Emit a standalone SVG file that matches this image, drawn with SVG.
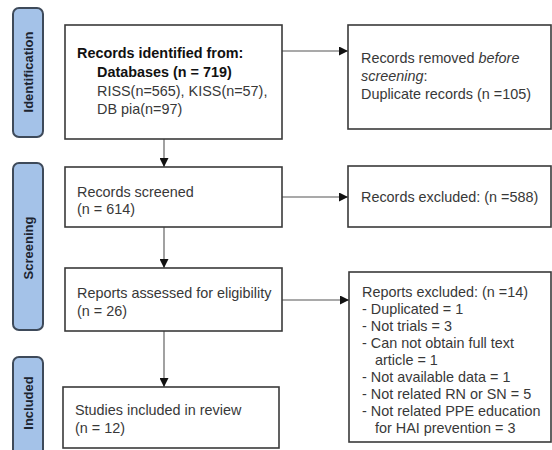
<svg xmlns="http://www.w3.org/2000/svg" width="552" height="450" viewBox="0 0 552 450">
<style>
.side{fill:#a4c2e8;stroke:#3e4a5a;stroke-width:2}
.sidet{font-family:"Liberation Sans",Arial,sans-serif;font-size:13px;font-weight:bold;fill:#1c2430;text-anchor:middle}
.box{fill:#fff;stroke:#3a3a3a;stroke-width:1.6}
.t{font-family:"Liberation Sans",Arial,sans-serif;font-size:14.4px;fill:#383838}
.b{font-weight:bold;fill:#111}
.c{fill:none;stroke:#555;stroke-width:1.1}
</style>
<defs>
<marker id="ah" viewBox="0 0 10 10" refX="10" refY="5" markerWidth="9" markerHeight="9" markerUnits="userSpaceOnUse" orient="auto">
<path d="M0,0 L10,5 L0,10 z" fill="#111"/>
</marker>
</defs>
<rect width="552" height="450" fill="#fff"/>
<g id="phase-identification">
<rect class="side" x="13" y="8" width="30" height="129" rx="6"/>
<text class="sidet" transform="translate(32.5,72) rotate(-90)">Identification</text>
</g>
<g id="phase-screening">
<rect class="side" x="13" y="163" width="30" height="167" rx="6"/>
<text class="sidet" transform="translate(32.5,248) rotate(-90)">Screening</text>
</g>
<g id="phase-included">
<rect class="side" x="13" y="357" width="30" height="100" rx="6"/>
<text class="sidet" transform="translate(32.5,403) rotate(-90)">Included</text>
</g>
<g id="connectors">
<line class="c" x1="164" y1="139" x2="164" y2="167" marker-end="url(#ah)"/>
<line class="c" x1="164" y1="227" x2="164" y2="268" marker-end="url(#ah)"/>
<line class="c" x1="164" y1="331" x2="164" y2="387" marker-end="url(#ah)"/>
<line class="c" x1="282" y1="51" x2="348" y2="51" marker-end="url(#ah)"/>
<line class="c" x1="282" y1="197" x2="348" y2="197" marker-end="url(#ah)"/>
<line class="c" x1="282" y1="300" x2="349" y2="300" marker-end="url(#ah)"/>
</g>
<g id="records-identified">
<rect class="box" x="65" y="25" width="217" height="114"/>
<text class="t b" x="77" y="58">Records identified from:</text>
<text class="t b" x="97" y="77">Databases (n = 719)</text>
<text class="t" x="97" y="96">RISS(n=565), KISS(n=57),</text>
<text class="t" x="97" y="114">DB pia(n=97)</text>
</g>
<g id="records-removed">
<rect class="box" x="348" y="25" width="203" height="104"/>
<text class="t" x="361" y="63">Records removed <tspan font-style="italic">before</tspan></text>
<text class="t" x="361" y="81"><tspan font-style="italic">screening</tspan>:</text>
<text class="t" x="361" y="99">Duplicate records  (n =105)</text>
</g>
<g id="records-screened">
<rect class="box" x="65" y="167" width="217" height="60"/>
<text class="t" x="77" y="197">Records screened</text>
<text class="t" x="77" y="214">(n = 614)</text>
</g>
<g id="records-excluded">
<rect class="box" x="348" y="166" width="203" height="61"/>
<text class="t" x="361" y="202">Records excluded: (n =588)</text>
</g>
<g id="reports-assessed">
<rect class="box" x="65" y="268" width="217" height="63"/>
<text class="t" x="77" y="298">Reports assessed for eligibility</text>
<text class="t" x="77" y="316">(n = 26)</text>
</g>
<g id="reports-excluded">
<rect class="box" x="349" y="272" width="202" height="170"/>
<text class="t" x="362" y="297">Reports excluded: (n =14)</text>
<text class="t" x="362" y="314">- Duplicated = 1</text>
<text class="t" x="362" y="331">- Not trials = 3</text>
<text class="t" x="362" y="348">- Can not obtain full text</text>
<text class="t" x="375" y="365">article = 1</text>
<text class="t" x="362" y="382">- Not available data = 1</text>
<text class="t" x="362" y="399">- Not related RN or SN = 5</text>
<text class="t" x="362" y="416">- Not related PPE education</text>
<text class="t" x="375" y="433">for HAI prevention = 3</text>
</g>
<g id="studies-included">
<rect class="box" x="63" y="387" width="216" height="61"/>
<text class="t" x="75" y="415">Studies included in review</text>
<text class="t" x="75" y="433">(n = 12)</text>
</g>
</svg>
